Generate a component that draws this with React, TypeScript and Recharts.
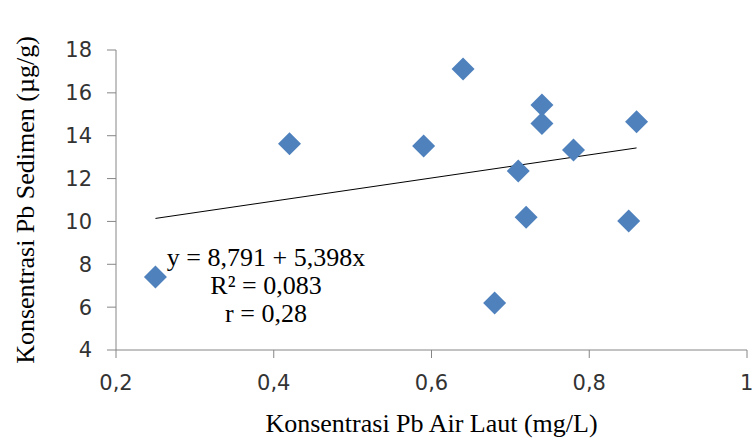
import { ScatterChart, Scatter, XAxis, YAxis, ReferenceLine, Label } from "recharts"

// Pb in sea water (mg/L) vs Pb in sediment (µg/g)
const airLaut = [0.25, 0.42, 0.59, 0.64, 0.68, 0.71, 0.72, 0.74, 0.74, 0.78, 0.85, 0.86]
const sedimen = [7.41, 13.63, 13.52, 17.11, 6.19, 12.35, 10.2, 15.43, 14.57, 13.33, 10.02, 14.65]

// linear trend endpoints (y = 8,791 + 5,398x)
const trendX = [0.25, 0.86]
const trendY = [10.14, 13.43]

const xTicks = [0.2, 0.4, 0.6, 0.8, 1]
const yTicks = [4, 6, 8, 10, 12, 14, 16, 18]

const equationLines = ["y = 8,791 + 5,398x", "R² = 0,083", "r = 0,28"]

const points = airLaut.map((x, i) => ({ x, y: sedimen[i] }))
const segment = trendX.map((x, i) => ({ x, y: trendY[i] }))

const axisColor = "#868686"
const tickStyle = { fontFamily: "DejaVu Sans", fontSize: 21, fill: "#333" }
const serif = "'Liberation Serif', 'Times New Roman', serif"

const comma = (v: number) => String(v).replace(".", ",")

function Diamond(props: any) {
  const { cx, cy } = props
  if (cx == null || cy == null) return null
  const r = 11.5
  return (
    <polygon
      points={`${cx},${cy - r} ${cx + r},${cy} ${cx},${cy + r} ${cx - r},${cy}`}
      fill="#4F81BD"
    />
  )
}

export default function App() {
  return (
    <div style={{ position: "absolute", left: 0, top: 0, width: 752, height: 448, background: "#fff" }}>
      <ScatterChart width={752} height={448} margin={{ top: 50, right: 5, bottom: 0, left: 0 }}>
        <XAxis
          type="number"
          dataKey="x"
          domain={[0.2, 1]}
          ticks={xTicks}
          tickFormatter={comma}
          height={98}
          stroke={axisColor}
          tickSize={8}
          tickMargin={17}
          tick={tickStyle}
          allowDataOverflow
        >
          <Label
            value="Konsentrasi Pb Air Laut (mg/L)"
            position="insideBottom"
            offset={16}
            style={{ fontFamily: serif, fontSize: 26, fill: "#000" }}
          />
        </XAxis>
        <YAxis
          type="number"
          dataKey="y"
          domain={[4, 18]}
          ticks={yTicks}
          width={116}
          stroke={axisColor}
          tickSize={9}
          tickMargin={15}
          tick={tickStyle}
          allowDataOverflow
        >
          <Label
            value="Konsentrasi Pb Sedimen (µg/g)"
            position="insideLeft"
            angle={-90}
            offset={25}
            style={{ fontFamily: serif, fontSize: 26, fill: "#000", textAnchor: "middle" }}
          />
        </YAxis>
        <Scatter data={points} shape={Diamond} isAnimationActive={false} />
        <ReferenceLine segment={segment} stroke="#000" strokeWidth={1} />
      </ScatterChart>
      <div
        style={{
          position: "absolute",
          left: 146,
          top: 244,
          width: 240,
          textAlign: "center",
          fontFamily: serif,
          fontSize: 26,
          lineHeight: "28px",
          color: "#000",
        }}
      >
        {equationLines.map((t) => (
          <div key={t}>{t}</div>
        ))}
      </div>
    </div>
  )
}
